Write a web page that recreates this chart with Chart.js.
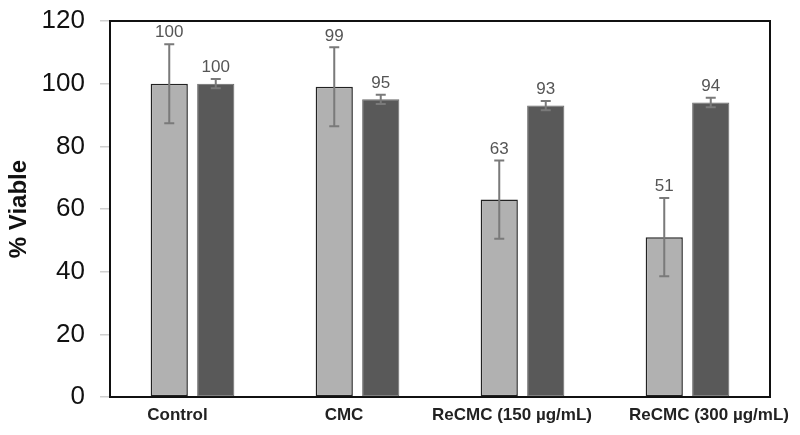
<!DOCTYPE html>
<html lang="en">
<head>
  <meta charset="UTF-8" />
  <title>% Viable</title>
  <script src="https://cdn.jsdelivr.net/npm/chart.js"></script>
  <style>
    html, body { margin: 0; padding: 0; background: #fff; }
    #wrap { width: 800px; height: 435px; }
  </style>
</head>
<body>
  <div id="wrap"><canvas id="viability"></canvas></div>

  <script>
    const categories = ["Control", "CMC", "ReCMC (150 \u00b5g/mL)", "ReCMC (300 \u00b5g/mL)"];
    const lightValues = [100, 99, 63, 51];
    const lightErrors = [12.6, 12.6, 12.5, 12.5];
    const darkValues = [100, 95, 93, 94];
    const darkErrors = [1.5, 1.5, 1.5, 1.5];
    const yTicks = [0, 20, 40, 60, 80, 100, 120];

    const errorSets = [lightErrors, darkErrors];
    // the category labels in the original sit a little off the group centres
    const labelShift = [-15, -13.5, -10.5, 21.5];
    const FONT = '"Liberation Sans", Arial, sans-serif';

    // error bars, value labels, category labels and the top/right frame
    const extras = {
      id: 'extras',
      afterDatasetsDraw(chart) {
        const ctx = chart.ctx;
        const x = chart.scales.x;
        const y = chart.scales.y;
        const area = chart.chartArea;
        ctx.save();
        chart.data.datasets.forEach((ds, di) => {
          const meta = chart.getDatasetMeta(di);
          meta.data.forEach((bar, i) => {
            const v = ds.data[i];
            const e = errorSets[di][i];
            const top = y.getPixelForValue(v + e);
            const bot = y.getPixelForValue(v - e);
            ctx.strokeStyle = '#7a7a7a';
            ctx.lineWidth = 2;
            ctx.beginPath();
            ctx.moveTo(bar.x, top); ctx.lineTo(bar.x, bot);
            ctx.moveTo(bar.x - 5, top); ctx.lineTo(bar.x + 5, top);
            ctx.moveTo(bar.x - 5, bot); ctx.lineTo(bar.x + 5, bot);
            ctx.stroke();
            ctx.fillStyle = '#555';
            ctx.font = '17px ' + FONT;
            ctx.textAlign = 'center';
            ctx.textBaseline = 'bottom';
            ctx.fillText(String(v), bar.x, top - 3);
          });
        });

        ctx.fillStyle = '#222';
        ctx.font = 'bold 17px ' + FONT;
        ctx.textAlign = 'center';
        ctx.textBaseline = 'middle';
        categories.forEach((c, i) => {
          ctx.fillText(c, x.getPixelForTick(i) + labelShift[i], area.bottom + 18);
        });

        ctx.strokeStyle = '#111';
        ctx.lineWidth = 2;
        ctx.beginPath();
        ctx.moveTo(area.left, area.top);
        ctx.lineTo(area.right, area.top);
        ctx.lineTo(area.right, area.bottom);
        ctx.stroke();
        ctx.restore();
      }
    };

    new Chart(document.getElementById('viability'), {
      type: 'bar',
      data: {
        labels: categories,
        datasets: [
          {
            data: lightValues,
            backgroundColor: '#b1b1b1',
            borderColor: '#222',
            borderWidth: 1.5,
            borderSkipped: false
          },
          {
            data: darkValues,
            backgroundColor: '#595959',
            borderColor: '#6a6a6a',
            borderWidth: 1,
            borderSkipped: false
          }
        ]
      },
      options: {
        responsive: true,
        maintainAspectRatio: false,
        animation: false,
        datasets: { bar: { categoryPercentage: 0.5636, barPercentage: 0.8 } },
        layout: { padding: { top: 21, right: 30, left: 0, bottom: 0 } },
        plugins: { legend: { display: false }, tooltip: { enabled: false } },
        scales: {
          x: {
            grid: { display: true, drawOnChartArea: false, drawTicks: false },
            border: { color: '#111', width: 2 },
            ticks: { display: false },
            afterFit(scale) { scale.height = 38; }
          },
          y: {
            min: 0,
            max: 120,
            afterBuildTicks(scale) { scale.ticks = yTicks.map(v => ({ value: v })); },
            grid: { drawOnChartArea: false, tickLength: 10, color: '#cfcfcf', lineWidth: 1.5 },
            border: { color: '#111', width: 2 },
            ticks: {
              padding: 15,
              color: '#111',
              font: { family: FONT, size: 26 }
            },
            title: {
              display: true,
              text: '% Viable',
              color: '#111',
              padding: { top: 5, bottom: 0 },
              font: { family: FONT, size: 24, weight: 'bold' }
            },
            afterFit(scale) {
              scale.width = 110;
              scale.paddingTop = 0;
              scale.paddingBottom = 0;
            }
          }
        }
      },
      plugins: [extras]
    });
  </script>
</body>
</html>
